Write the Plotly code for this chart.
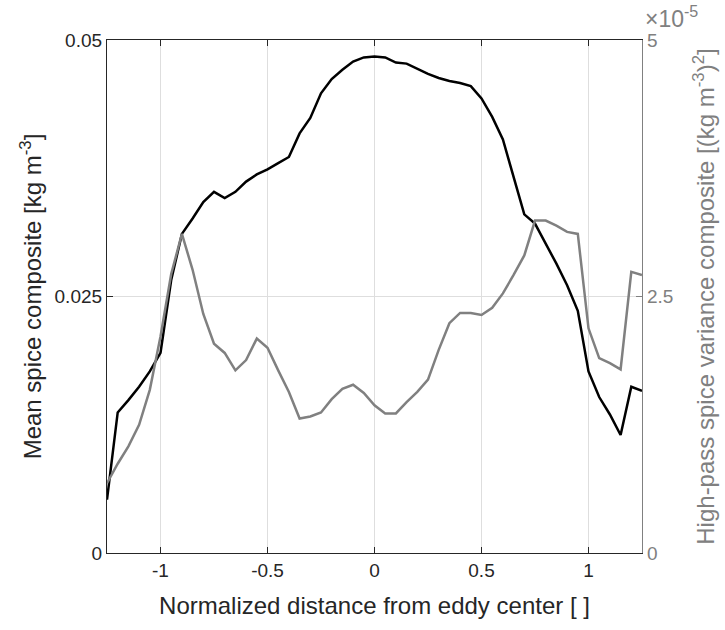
import plotly.graph_objects as go

distance = [-1.25, -1.2, -1.15, -1.1, -1.05, -1.0, -0.95, -0.9, -0.85, -0.8,
            -0.75, -0.7, -0.65, -0.6, -0.55, -0.5, -0.45, -0.4, -0.35, -0.3,
            -0.25, -0.2, -0.15, -0.1, -0.05, 0.0, 0.05, 0.1, 0.15, 0.2,
            0.25, 0.3, 0.35, 0.4, 0.45, 0.5, 0.55, 0.6, 0.65, 0.7,
            0.75, 0.8, 0.85, 0.9, 0.95, 1.0, 1.05, 1.1, 1.15, 1.2, 1.25]

mean_spice = [0.0052, 0.0137, 0.0149, 0.0162, 0.0177, 0.0195, 0.0266, 0.0311, 0.0326, 0.0342,
              0.0352, 0.0346, 0.0352, 0.0362, 0.0369, 0.0374, 0.0380, 0.0386, 0.0409, 0.0424,
              0.0448, 0.0462, 0.0471, 0.0479, 0.0483, 0.0484, 0.0483, 0.0478, 0.0477, 0.0472,
              0.0467, 0.0463, 0.0460, 0.0458, 0.0455, 0.0443, 0.0425, 0.0403, 0.0367, 0.0330,
              0.0321, 0.0302, 0.0282, 0.0261, 0.0236, 0.0177, 0.0152, 0.0135, 0.0115, 0.0162, 0.0158]

# high-pass spice variance, in units of 1e-5 (kg m^-3)^2
variance_e5 = [0.68, 0.87, 1.04, 1.25, 1.59, 2.11, 2.72, 3.11, 2.76, 2.33,
               2.04, 1.95, 1.78, 1.88, 2.09, 2.00, 1.78, 1.57, 1.31, 1.33,
               1.37, 1.50, 1.60, 1.64, 1.56, 1.44, 1.36, 1.36, 1.47, 1.57,
               1.69, 1.98, 2.24, 2.34, 2.34, 2.32, 2.39, 2.53, 2.71, 2.90,
               3.24, 3.24, 3.19, 3.13, 3.11, 2.19, 1.90, 1.85, 1.79, 2.74, 2.71]

x_ticks = [-1, -0.5, 0, 0.5, 1]
x_ticktext = ["-1", "-0.5", "0", "0.5", "1"]
y_ticks = [0, 0.025, 0.05]
y_ticktext = ["0", "0.025", "0.05"]
y2_ticks = [0, 2.5, 5]
y2_ticktext = ["0", "2.5", "5"]

GRAY = "#808080"
DARK = "#262626"
FONT = "Liberation Sans, Arial, sans-serif"
TITLE_SIZE = 24

fig = go.Figure()
fig.add_trace(go.Scatter(x=distance, y=variance_e5, mode="lines", yaxis="y2",
                         line=dict(color=GRAY, width=2.5), showlegend=False))
fig.add_trace(go.Scatter(x=distance, y=mean_spice, mode="lines", yaxis="y",
                         line=dict(color="black", width=2.5), showlegend=False))

fig.update_layout(
    width=725, height=630,
    margin=dict(l=107, r=83, t=40, b=77),
    paper_bgcolor="white", plot_bgcolor="white",
    font=dict(family=FONT, size=19, color=DARK),
    xaxis=dict(range=[-1.25, 1.25], tickvals=x_ticks, ticktext=x_ticktext,
               showgrid=True, gridcolor="#dedede", gridwidth=1,
               showline=True, linecolor=DARK, linewidth=1.2, mirror="ticks",
               ticks="inside", ticklen=6, tickcolor=DARK, zeroline=False,
               title=dict(text="Normalized distance from eddy center [ ]",
                          font=dict(size=TITLE_SIZE, color=DARK), standoff=17)),
    yaxis=dict(range=[0, 0.05], tickvals=y_ticks, ticktext=y_ticktext,
               showgrid=True, gridcolor="#dedede", gridwidth=1,
               showline=True, linecolor=DARK, linewidth=1.2,
               ticks="inside", ticklen=6, tickcolor=DARK, zeroline=False,
               title=dict(text="Mean spice composite [kg m<sup>-3</sup>]",
                          font=dict(size=TITLE_SIZE, color=DARK), standoff=6)),
    yaxis2=dict(range=[0, 5], tickvals=y2_ticks, ticktext=y2_ticktext,
                overlaying="y", side="right", showgrid=False,
                showline=True, linecolor=GRAY, linewidth=1.2,
                ticks="inside", ticklen=6, tickcolor=GRAY, zeroline=False,
                tickfont=dict(color=GRAY),
                title=dict(text="High-pass spice variance composite [(kg m<sup>-3</sup>)<sup>2</sup>]",
                           font=dict(size=TITLE_SIZE, color=GRAY), standoff=24)),
    annotations=[dict(text="\u00d710<sup>-5</sup>", xref="paper", yref="paper",
                      x=1.0, y=1.0, xanchor="left", yanchor="bottom",
                      xshift=1, yshift=6,
                      showarrow=False, font=dict(size=23, color=GRAY))],
)

fig.write_html("out.html")
